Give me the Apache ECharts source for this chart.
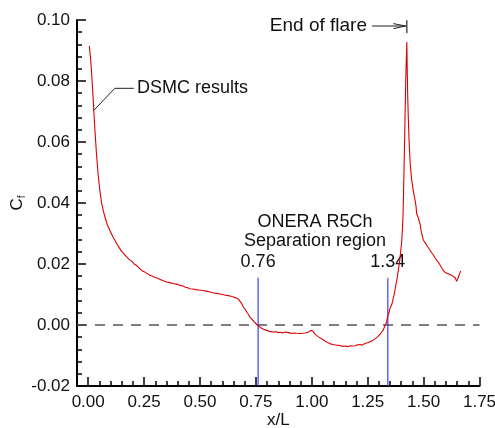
<!DOCTYPE html>
<html>
<head>
<meta charset="utf-8">
<script src="https://cdn.jsdelivr.net/npm/echarts@6/dist/echarts.min.js"></script>
<style>
html,body{margin:0;padding:0;background:#fff;}
#chart{width:495px;height:428px;}
</style>
</head>
<body>
<div id="chart"></div>
<script>
// ---- data ----
const xL = [0.005,0.010,0.015,0.020,0.025,0.030,0.037,0.045,0.052,0.060,0.068,0.075,0.085,0.097,0.110,0.120,0.127,0.140,0.148,0.155,0.165,0.172,0.182,0.190,0.198,0.205,0.215,0.224,0.232,0.240,0.250,0.260,0.268,0.276,0.288,0.300,0.310,0.320,0.336,0.351,0.365,0.380,0.395,0.410,0.425,0.435,0.445,0.455,0.468,0.480,0.495,0.510,0.528,0.545,0.562,0.580,0.600,0.619,0.635,0.650,0.662,0.671,0.678,0.685,0.694,0.703,0.710,0.718,0.723,0.732,0.740,0.748,0.756,0.763,0.770,0.777,0.783,0.792,0.800,0.812,0.828,0.840,0.850,0.860,0.870,0.880,0.888,0.898,0.910,0.920,0.932,0.940,0.947,0.958,0.970,0.978,0.984,0.990,0.995,1.000,1.004,1.008,1.014,1.020,1.030,1.044,1.052,1.060,1.070,1.081,1.090,1.100,1.110,1.118,1.126,1.135,1.142,1.150,1.160,1.171,1.180,1.188,1.195,1.205,1.216,1.225,1.232,1.240,1.250,1.260,1.270,1.280,1.288,1.295,1.305,1.313,1.320,1.328,1.334,1.340,1.345,1.350,1.358,1.365,1.370,1.375,1.381,1.387,1.393,1.398,1.402,1.405,1.408,1.410,1.413,1.416,1.418,1.420,1.423,1.425,1.427,1.429,1.432,1.435,1.440,1.447,1.455,1.462,1.466,1.469,1.476,1.484,1.490,1.499,1.507,1.515,1.522,1.529,1.537,1.545,1.552,1.559,1.567,1.575,1.582,1.588,1.597,1.605,1.612,1.618,1.627,1.635,1.641,1.648,1.652,1.657,1.662,1.666];
const cf = [0.0915,0.0880,0.0830,0.0770,0.0705,0.0640,0.0562,0.0490,0.0442,0.0400,0.0373,0.0354,0.0330,0.0310,0.0290,0.0277,0.0267,0.0252,0.0243,0.0238,0.0229,0.0223,0.0216,0.0211,0.0207,0.0200,0.0196,0.0190,0.0184,0.0178,0.0175,0.0170,0.0167,0.0163,0.0160,0.0156,0.0153,0.0150,0.0145,0.0141,0.0139,0.0136,0.0134,0.0130,0.0128,0.0124,0.0122,0.0119,0.0118,0.0116,0.0115,0.0113,0.0111,0.0108,0.0105,0.0103,0.0100,0.0097,0.0095,0.0092,0.0089,0.0085,0.0080,0.0072,0.0059,0.0050,0.0042,0.0033,0.0026,0.0019,0.0012,0.0006,0.0000,-0.0005,-0.0008,-0.0011,-0.0013,-0.0016,-0.0018,-0.0021,-0.0023,-0.0022,-0.0025,-0.0024,-0.0026,-0.0023,-0.0026,-0.0025,-0.0028,-0.0026,-0.0027,-0.0025,-0.0028,-0.0027,-0.0026,-0.0027,-0.0024,-0.0022,-0.0018,-0.0015,-0.0019,-0.0024,-0.0030,-0.0033,-0.0039,-0.0045,-0.0049,-0.0053,-0.0057,-0.0061,-0.0063,-0.0065,-0.0066,-0.0064,-0.0067,-0.0070,-0.0066,-0.0069,-0.0071,-0.0068,-0.0069,-0.0066,-0.0068,-0.0065,-0.0064,-0.0066,-0.0061,-0.0060,-0.0058,-0.0055,-0.0052,-0.0047,-0.0044,-0.0038,-0.0031,-0.0023,-0.0016,0.0000,0.0008,0.0030,0.0040,0.0055,0.0068,0.0090,0.0105,0.0128,0.0150,0.0180,0.0210,0.0245,0.0272,0.0310,0.0360,0.0420,0.0530,0.0640,0.0720,0.0800,0.0880,0.0928,0.0830,0.0748,0.0670,0.0606,0.0530,0.0474,0.0435,0.0409,0.0390,0.0365,0.0352,0.0332,0.0305,0.0278,0.0270,0.0260,0.0254,0.0245,0.0236,0.0228,0.0219,0.0212,0.0205,0.0195,0.0186,0.0179,0.0172,0.0168,0.0167,0.0163,0.0162,0.0158,0.0155,0.0143,0.0150,0.0160,0.0170,0.0177];
const xTickValues = [0.00,0.25,0.50,0.75,1.00,1.25,1.50,1.75];
const sepStart = 0.76;
const sepEnd = 1.34;
const flareEnd = 1.425;

const fontFam = '"Liberation Sans", Arial, sans-serif';
const curve = xL.map((x, i) => [x, cf[i]]);

const chart = echarts.init(document.getElementById('chart'), null, {renderer: 'canvas'});
const black = '#000';
const txt = (s, size) => ({show: true, formatter: s, fontFamily: fontFam, fontSize: size, color: '#111', opacity: 1});
const option = {
  animation: false,
  backgroundColor: '#fff',
  grid: {left: 77, right: 15.5, top: 20, bottom: 42, containLabel: false, outerBoundsMode: 'none'},
  xAxis: [
    {
      type: 'value', position: 'bottom', min: -0.05, max: 1.75,
      name: 'x/L', nameLocation: 'middle', nameGap: 26, nameMoveOverlap: false,
      nameTextStyle: {fontFamily: fontFam, fontSize: 17, color: '#111'},
      axisLine: {show: true, onZero: false, lineStyle: {color: black, width: 2}},
      axisTick: {show: true, inside: true, length: 9, customValues: xTickValues, lineStyle: {color: black, width: 1.5}},
      axisLabel: {show: true, customValues: xTickValues, margin: 8, fontFamily: fontFam, fontSize: 17, color: '#111', formatter: v => v.toFixed(2)},
      splitLine: {show: false}
    },
    {
      type: 'value', position: 'bottom', min: -0.05, max: 1.75, interval: 0.05,
      axisLine: {show: false, onZero: false},
      axisTick: {show: true, inside: true, length: 5, lineStyle: {color: black, width: 1.5}},
      axisLabel: {show: false},
      splitLine: {show: false}
    }
  ],
  yAxis: {
    type: 'value', min: -0.02, max: 0.10, interval: 0.02,
    name: '{c|C}{f|f}', nameLocation: 'middle', nameGap: 50, nameRotate: 90, nameMoveOverlap: false,
    nameTextStyle: {fontFamily: fontFam, color: '#111', rich: {
      c: {fontFamily: fontFam, fontSize: 17, color: '#111'},
      f: {fontFamily: fontFam, fontSize: 10, color: '#111', padding: [9, 0, 0, 0]}
    }},
    axisLine: {show: true, onZero: false, lineStyle: {color: black, width: 2}},
    axisTick: {show: true, inside: true, length: 9, lineStyle: {color: black, width: 1.5}},
    minorTick: {show: true, splitNumber: 5, length: 5, lineStyle: {color: black, width: 1.5}},
    axisLabel: {margin: 7, fontFamily: fontFam, fontSize: 17, color: '#111', formatter: v => v.toFixed(2)},
    splitLine: {show: false}
  },
  series: [
    { // zero line
      type: 'line', data: [[-0.05, 0], [1.75, 0]], showSymbol: false, silent: true,
      lineStyle: {color: '#555', width: 1.5, type: [10, 8]}, z: 1
    },
    { // DSMC curve
      type: 'line', data: curve, showSymbol: false, symbol: 'none',
      lineStyle: {color: '#dd0000', width: 1.1}, z: 3
    },
    { // separation start
      type: 'line', data: [[sepStart, -0.02], {value: [sepStart, 0.0153], label: Object.assign(txt(sepStart.toFixed(2), 18), {position: 'top', distance: 6})}],
      showSymbol: true, symbolSize: 0.1, lineStyle: {color: '#3c3cff', width: 1.2}, z: 2
    },
    { // separation end
      type: 'line', data: [[sepEnd, -0.02], {value: [sepEnd, 0.0153], label: Object.assign(txt(sepEnd.toFixed(2), 18), {position: 'top', distance: 6})}],
      showSymbol: true, symbolSize: 0.1, lineStyle: {color: '#3c3cff', width: 1.2}, z: 2
    },
    { // region title
      type: 'line', showSymbol: true, symbolSize: 0.1, silent: true,
      data: [{value: [1.0143, 0.0306], label: Object.assign(txt('ONERA R5Ch\nSeparation region', 18), {position: 'inside', align: 'center', lineHeight: 19})}],
      lineStyle: {opacity: 0}
    },
    { // DSMC leader
      type: 'line', showSymbol: true, symbolSize: 0.1, clip: false,
      data: [[0.0255, 0.0704], [0.119, 0.0776], {value: [0.2045, 0.0776], label: Object.assign(txt('DSMC results', 18), {position: 'right', distance: 2})}],
      lineStyle: {color: '#222', width: 1}, z: 4
    },
    { // End of flare arrow shaft
      type: 'line', showSymbol: true, symbolSize: 0.1, clip: false,
      data: [{value: [1.2694, 0.09803], label: Object.assign(txt('End of flare', 19), {position: 'left', distance: 4})}, [1.4201, 0.09803]],
      lineStyle: {color: '#222', width: 1}
    },
    { // arrow head
      type: 'line', showSymbol: false, clip: false,
      data: [[1.3647, 0.09882], [1.4201, 0.09803], [1.3647, 0.09718]],
      lineStyle: {color: '#222', width: 1}
    },
    { // flare end bar
      type: 'line', showSymbol: false, clip: false,
      data: [[flareEnd, 0.0999], [flareEnd, 0.0957]],
      lineStyle: {color: '#222', width: 1.2}
    }
  ]
};
chart.setOption(option);
</script>
</body>
</html>
